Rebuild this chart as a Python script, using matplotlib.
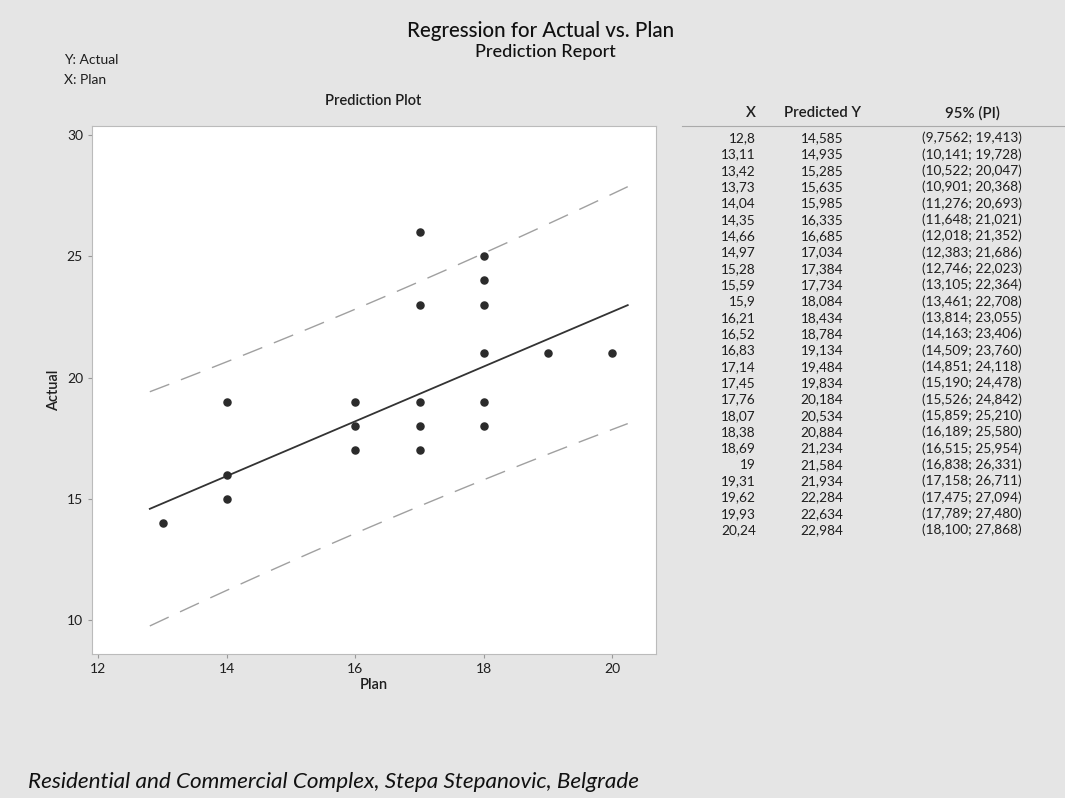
import matplotlib.pyplot as plt

# observed data points (Plan, Actual)
plan = [13, 14, 14, 14, 16, 16, 16, 17, 17, 17, 17, 17, 18, 18, 18, 18, 18, 18, 19, 20]
actual = [14, 19, 16, 15, 19, 18, 17, 26, 23, 19, 18, 17, 25, 24, 23, 21, 19, 18, 21, 21]

# prediction report
x_pred = [12.8, 13.11, 13.42, 13.73, 14.04, 14.35, 14.66, 14.97, 15.28, 15.59, 15.9,
          16.21, 16.52, 16.83, 17.14, 17.45, 17.76, 18.07, 18.38, 18.69, 19.0,
          19.31, 19.62, 19.93, 20.24]
x_labels = ['12,8', '13,11', '13,42', '13,73', '14,04', '14,35', '14,66', '14,97', '15,28',
            '15,59', '15,9', '16,21', '16,52', '16,83', '17,14', '17,45', '17,76', '18,07',
            '18,38', '18,69', '19', '19,31', '19,62', '19,93', '20,24']
y_pred = [14.585, 14.935, 15.285, 15.635, 15.985, 16.335, 16.685, 17.034, 17.384, 17.734,
          18.084, 18.434, 18.784, 19.134, 19.484, 19.834, 20.184, 20.534, 20.884, 21.234,
          21.584, 21.934, 22.284, 22.634, 22.984]
pi_low = [9.7562, 10.141, 10.522, 10.901, 11.276, 11.648, 12.018, 12.383, 12.746, 13.105,
          13.461, 13.814, 14.163, 14.509, 14.851, 15.190, 15.526, 15.859, 16.189, 16.515,
          16.838, 17.158, 17.475, 17.789, 18.100]
pi_high = [19.413, 19.728, 20.047, 20.368, 20.693, 21.021, 21.352, 21.686, 22.023, 22.364,
           22.708, 23.055, 23.406, 23.760, 24.118, 24.478, 24.842, 25.210, 25.580, 25.954,
           26.331, 26.711, 27.094, 27.480, 27.868]
y_pred_labels = ['14,585', '14,935', '15,285', '15,635', '15,985', '16,335', '16,685', '17,034',
                 '17,384', '17,734', '18,084', '18,434', '18,784', '19,134', '19,484', '19,834',
                 '20,184', '20,534', '20,884', '21,234', '21,584', '21,934', '22,284', '22,634',
                 '22,984']
pi_labels = ['(9,7562; 19,413)', '(10,141; 19,728)', '(10,522; 20,047)', '(10,901; 20,368)',
             '(11,276; 20,693)', '(11,648; 21,021)', '(12,018; 21,352)', '(12,383; 21,686)',
             '(12,746; 22,023)', '(13,105; 22,364)', '(13,461; 22,708)', '(13,814; 23,055)',
             '(14,163; 23,406)', '(14,509; 23,760)', '(14,851; 24,118)', '(15,190; 24,478)',
             '(15,526; 24,842)', '(15,859; 25,210)', '(16,189; 25,580)', '(16,515; 25,954)',
             '(16,838; 26,331)', '(17,158; 26,711)', '(17,475; 27,094)', '(17,789; 27,480)',
             '(18,100; 27,868)']

plt.rcParams['font.family'] = ['Lato', 'DejaVu Sans']
W, H = 1065, 798
bg = '#e5e5e5'
txt = '#1e1e1e'
fig = plt.figure(figsize=(W / 100, H / 100), dpi=100, facecolor=bg)

# titles
fig.text(541 / W, 1 - 31 / H, 'Regression for Actual vs. Plan', ha='center', va='center', fontsize=14.8,
         fontweight='medium', color='#111111')
fig.text(545 / W, 1 - 52 / H, 'Prediction Report', ha='center', va='center', fontsize=13,
         fontweight='medium', color='#111111')
fig.text(64 / W, 1 - 60 / H, 'Y: Actual', ha='left', va='center', fontsize=10, color=txt)
fig.text(64 / W, 1 - 80 / H, 'X: Plan', ha='left', va='center', fontsize=10, color=txt)
fig.text(373 / W, 1 - 101 / H, 'Prediction Plot', ha='center', va='center', fontsize=10.5,
         fontweight='semibold', color=txt)
fig.text(28 / W, 1 - 782 / H, 'Residential and Commercial Complex, Stepa Stepanovic, Belgrade',
         ha='left', va='center', fontsize=16.2, style='italic', color='#111111')

# prediction plot
ax = fig.add_axes([92 / W, 1 - 654 / H, (656 - 92) / W, (654 - 126) / H])
ax.set_facecolor('white')
ax.plot(x_pred, pi_high, color='#a0a0a0', lw=1, dashes=(15, 9))
ax.plot(x_pred, pi_low, color='#a0a0a0', lw=1, dashes=(15, 9))
ax.plot(x_pred, y_pred, color='#333333', lw=1.3)
ax.scatter(plan, actual, s=26, color='#2b2b2b', zorder=3)
ax.set_xlim(11.9, 20.68)
ax.set_ylim(8.6, 30.37)
ax.set_xticks([12, 14, 16, 18, 20])
ax.set_yticks([10, 15, 20, 25, 30])
ax.tick_params(length=3, color='#999999', labelsize=10, labelcolor=txt)
for sp in ax.spines.values():
    sp.set_color('#bbbbbb')
ax.set_xlabel('Plan', fontsize=10.5, fontweight='semibold', color=txt, labelpad=2)
ax.set_ylabel('Actual', fontsize=10.5, fontweight='semibold', color=txt, labelpad=4)

# prediction report table
fig.text(756 / W, 1 - 113 / H, 'X', ha='right', va='center', fontsize=10.8, fontweight='semibold', color=txt)
fig.text(823 / W, 1 - 113 / H, 'Predicted Y', ha='center', va='center', fontsize=10.8,
         fontweight='semibold', color=txt)
fig.text(972 / W, 1 - 113 / H, '95% (PI)', ha='center', va='center', fontsize=10.8,
         fontweight='semibold', color=txt)
fig.add_artist(plt.Line2D([682 / W, 1.0], [1 - 126 / H, 1 - 126 / H], color='#aaaaaa', lw=0.8))

row_h = (530 - 138) / (len(x_labels) - 1)
for i in range(len(x_labels)):
    yy = 1 - (138 + i * row_h) / H
    fig.text(756 / W, yy, x_labels[i], ha='right', va='center', fontsize=9.8, color=txt)
    fig.text(822 / W, yy, y_pred_labels[i], ha='center', va='center', fontsize=9.8, color=txt)
    fig.text(972 / W, yy, pi_labels[i], ha='center', va='center', fontsize=9.8, color=txt)

fig.savefig('out.png', dpi=100, facecolor=bg)
